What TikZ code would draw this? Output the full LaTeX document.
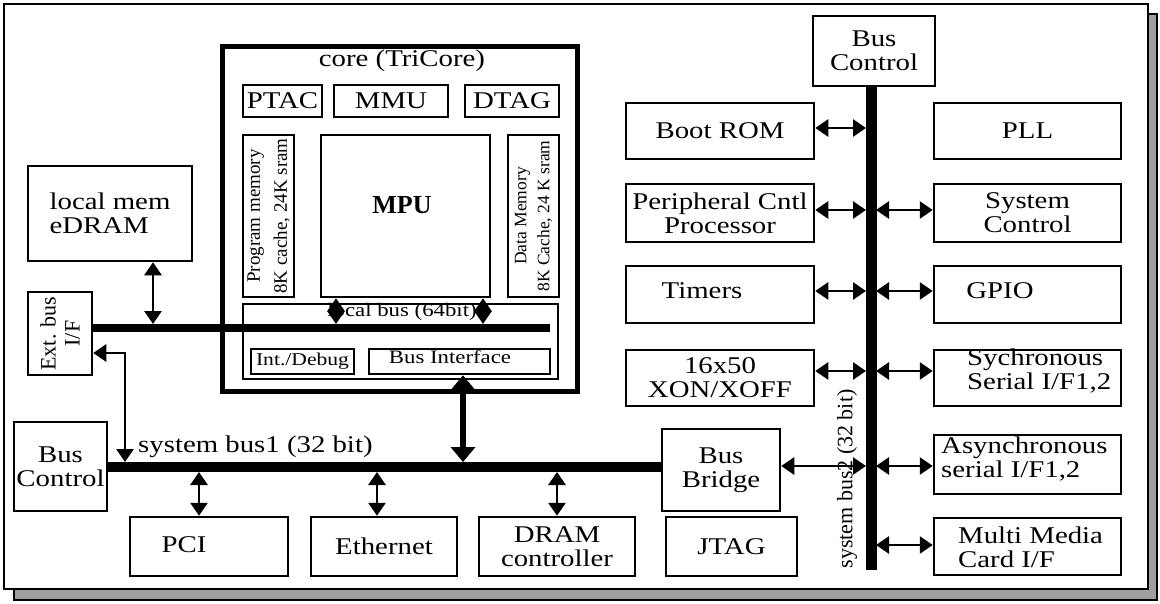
\documentclass[tikz,border=0pt]{standalone}
\usepackage{fontspec}
\setmainfont{Liberation Serif}[FakeStretch=1.2]
\newfontfamily\plainfont{Liberation Serif}
\usetikzlibrary{arrows.meta}
\newcommand\mainfs{\fontsize{24}{24}\selectfont}
\newcommand\mybox[7]{\node[box,#6,minimum width={(#4-#2)*1pt},minimum height={(#5-#3)*1pt}] (#1) at ({(#2+#4)/2},{(#3+#5)/2}) {#7};}
\begin{document}
\begin{tikzpicture}[x=1pt,y=-1pt,
  box/.style={draw, line width=2.5pt, inner sep=0pt, align=center, font=\mainfs},
  txt/.style={inner sep=0pt, align=left, font=\mainfs},
  busline/.style={line width=#1},
  biarrow/.style={line width=2.8pt, {Triangle[length=13pt,width=17pt]}-{Triangle[length=13pt,width=17pt]}},
  bigarrow/.style={line width=6pt, {Triangle[length=15pt,width=24pt]}-{Triangle[length=15pt,width=24pt]}}
]
\useasboundingbox (0,0) rectangle (1160,603);
% frame with shadow
\draw[line width=1.5pt, fill=gray!75] (14,14) rectangle (1157,600);
\draw[line width=2.5pt, fill=white] (4,4) rectangle (1148,589);

% core
\mybox{core}{222}{46}{577}{391}{line width=5pt}{}
\node[txt] (coretitle) at (402,61) {core (TriCore)};
\mybox{ptac}{243}{85}{322}{117}{}{PTAC}
\mybox{mmu}{334}{85}{448}{117}{}{MMU}
\mybox{dtag}{465}{85}{559}{117}{}{DTAG}
\node[box, rotate=90, minimum width=162pt, minimum height=51pt, font=\plainfont\fontsize{19}{27}\selectfont] (progmem) at (268.5,216) {Program memory\\8K cache, 24K sram};
\mybox{mpu}{321}{135}{490}{297}{}{}
\node[inner sep=0pt, font=\plainfont\bfseries\fontsize{26}{26}\selectfont] (mputxt) at (402,205) {MPU};
\node[box, rotate=90, minimum width=162pt, minimum height=51pt, font=\plainfont\fontsize{17.5}{23}\selectfont] (datamem) at (533.5,216) {Data Memory\\8K Cache, 24 K sram};
\mybox{lbarea}{243}{304}{558}{379}{}{}
\node[txt, font=\fontsize{19}{19}\selectfont] (lblabel) at (402,312) {local bus (64bit)};
\mybox{intdbg}{251}{349}{354}{374}{font=\fontsize{18}{18}\selectfont}{Int./Debug}
\mybox{busif}{369}{349}{550}{374}{}{}
\node[txt, font=\fontsize{19}{19}\selectfont] (busiftxt) at (450,357) {Bus Interface};

% left side
\mybox{edram}{28}{166}{192}{261}{align=left}{local mem\\eDRAM}
\node[box, rotate=90, minimum width=83pt, minimum height=64pt, font=\plainfont\fontsize{22}{24}\selectfont] (extbus) at (60,333.5) {Ext. bus\\I/F};
\mybox{bcleft}{14}{422}{107}{511}{}{Bus\\Control}
\node[txt, anchor=west] (sb1label) at (138,447) {system bus1 (32 bit)};

% bottom
\mybox{pci}{130}{517}{288}{576}{}{}
\node[txt] (pcitxt) at (184,545) {PCI};
\mybox{eth}{311}{517}{457}{576}{}{Ethernet}
\mybox{dram}{479}{517}{635}{576}{}{DRAM\\controller}
\mybox{jtag}{666}{517}{797}{576}{}{JTAG}
\mybox{bridge}{662}{429}{780}{511}{}{Bus\\Bridge}

% right side
\mybox{bctop}{813}{16}{935}{86}{}{Bus\\Control}
\mybox{bootrom}{626}{103}{814}{159}{}{Boot ROM}
\mybox{pcp}{626}{184}{814}{242}{}{Peripheral Cntl\\Processor}
\mybox{timers}{626}{266}{814}{323}{}{}
\node[txt] (timerstxt) at (702,291) {Timers};
\mybox{xon}{626}{350}{814}{406}{}{16x50\\XON/XOFF}
\mybox{pll}{934}{103}{1121}{159}{}{PLL}
\mybox{sysctl}{934}{184}{1121}{242}{}{System\\Control}
\mybox{gpio}{934}{266}{1121}{323}{}{}
\node[txt] (gpiotxt) at (1000,291) {GPIO};
\mybox{sync}{934}{350}{1121}{406}{}{}
\node[txt, anchor=west] (synctxt) at (967,371) {Sychronous\\Serial I/F1,2};
\mybox{async}{934}{435}{1121}{494}{}{}
\node[txt, anchor=west] (asynctxt) at (941,459) {Asynchronous\\serial I/F1,2};
\mybox{mmc}{934}{518}{1121}{575}{}{}
\node[txt, anchor=west] (mmctxt) at (958,547) {Multi Media\\Card I/F};
\node[inner sep=0pt, rotate=90, font=\plainfont\fontsize{22}{22}\selectfont] (sb2label) at (847,479) {system bus2 (32 bit)};

% bus coordinates
\coordinate (lbR) at (550,328);
\coordinate (lbtop) at (0,324);
\coordinate (sb1) at (300,467);
\coordinate (sb1top) at (0,462);
\coordinate (sb1bot) at (0,472);
\coordinate (sb2end) at (871,570);
\coordinate (sb2L) at (866,0);
\coordinate (sb2R) at (876,0);
\coordinate (extdrop) at (125,462);

% buses
\draw[busline=8pt] (lbR -| extbus.south) -- (lbR);
\draw[busline=10pt] (sb1 -| bcleft.east) -- (sb1 -| bridge.west);
\draw[busline=11pt] (sb2end |- bctop.south) -- (sb2end);

% arrows core
\draw[biarrow] ([xshift=43pt]edram.south) -- ([xshift=43pt]edram.south |- lbtop);
\draw[biarrow] ([xshift=-69.5pt]mpu.south) -- ([xshift=-69.5pt]mpu.south |- lbtop);
\draw[biarrow] ([xshift=77.5pt]mpu.south) -- ([xshift=77.5pt]mpu.south |- lbtop);
\draw[biarrow] ([yshift=-19.5pt]extbus.south) -| (extdrop);
\draw[bigarrow] ([xshift=3.5pt]busif.south) -- ([xshift=3.5pt]busif.south |- sb1top);
\draw[biarrow] ([xshift=-10pt]pci.north) -- ([xshift=-10pt]pci.north |- sb1bot);
\draw[biarrow] ([xshift=-7pt]eth.north) -- ([xshift=-7pt]eth.north |- sb1bot);
\draw[biarrow] (dram.north) -- (dram.north |- sb1bot);
\draw[biarrow] ([yshift=4pt]bridge.east) -- ([yshift=4pt]bridge.east -| sb2L);
% system bus 2 arrows
\draw[biarrow] ([yshift=3pt]bootrom.east) -- ([yshift=3pt]bootrom.east -| sb2L);
\draw[biarrow] ([yshift=3pt]pcp.east) -- ([yshift=3pt]pcp.east -| sb2L);
\draw[biarrow] ([yshift=3.5pt]timers.east) -- ([yshift=3.5pt]timers.east -| sb2L);
\draw[biarrow] ([yshift=7pt]xon.east) -- ([yshift=7pt]xon.east -| sb2L);
\draw[biarrow] ([yshift=3pt]sysctl.west -| sb2R) -- ([yshift=3pt]sysctl.west);
\draw[biarrow] ([yshift=3.5pt]gpio.west -| sb2R) -- ([yshift=3.5pt]gpio.west);
\draw[biarrow] ([yshift=7pt]sync.west -| sb2R) -- ([yshift=7pt]sync.west);
\draw[biarrow] ([yshift=-1.5pt]async.west -| sb2R) -- ([yshift=-1.5pt]async.west);
\draw[biarrow] ([yshift=1.5pt]mmc.west -| sb2R) -- ([yshift=1.5pt]mmc.west);
\end{tikzpicture}
\end{document}
